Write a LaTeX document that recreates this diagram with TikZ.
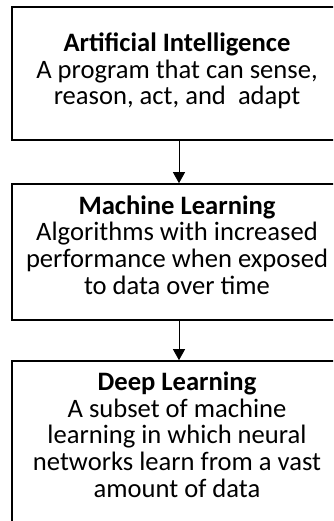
\documentclass[tikz,border=0pt]{standalone}
\usepackage{fontspec}
\setmainfont{Carlito}
\usetikzlibrary{arrows.meta}
\begin{document}
\begin{tikzpicture}[x=1pt,y=-1pt,
  box/.style={draw=black,line width=1.6pt,rectangle,inner sep=0pt,minimum width=334pt},
  txt/.style={align=center,inner sep=0pt,anchor=base,font=\fontsize{26.6}{26.6}\selectfont},
  conn/.style={draw=black,line width=0.8pt,-{Triangle[width=12pt,length=11pt]}}]
\useasboundingbox (0,0) rectangle (333,521);
\clip (0,0) rectangle (333,521);
\node[box,minimum height=133pt] (b1) at (179,73.5) {};
\node[box,minimum height=136pt] (b2) at (179,252) {};
\node[box,minimum height=174pt] (b3) at (179,448) {};
\node[txt] (t1) at (177,105) {\textbf{Artificial Intelligence}\\A program that can sense,\\reason, act, and\ \ adapt};
\node[txt] (t2) at (177,294) {\textbf{Machine Learning}\\Algorithms with increased\\performance when exposed\\to data over time};
\node[txt] (t3) at (177,497) {\textbf{Deep Learning}\\A subset of machine\\learning in which neural\\networks learn from a vast\\amount of data};
\draw[conn] (b1) -- (b2);
\draw[conn] (b2) -- (b3);
\end{tikzpicture}
\end{document}
